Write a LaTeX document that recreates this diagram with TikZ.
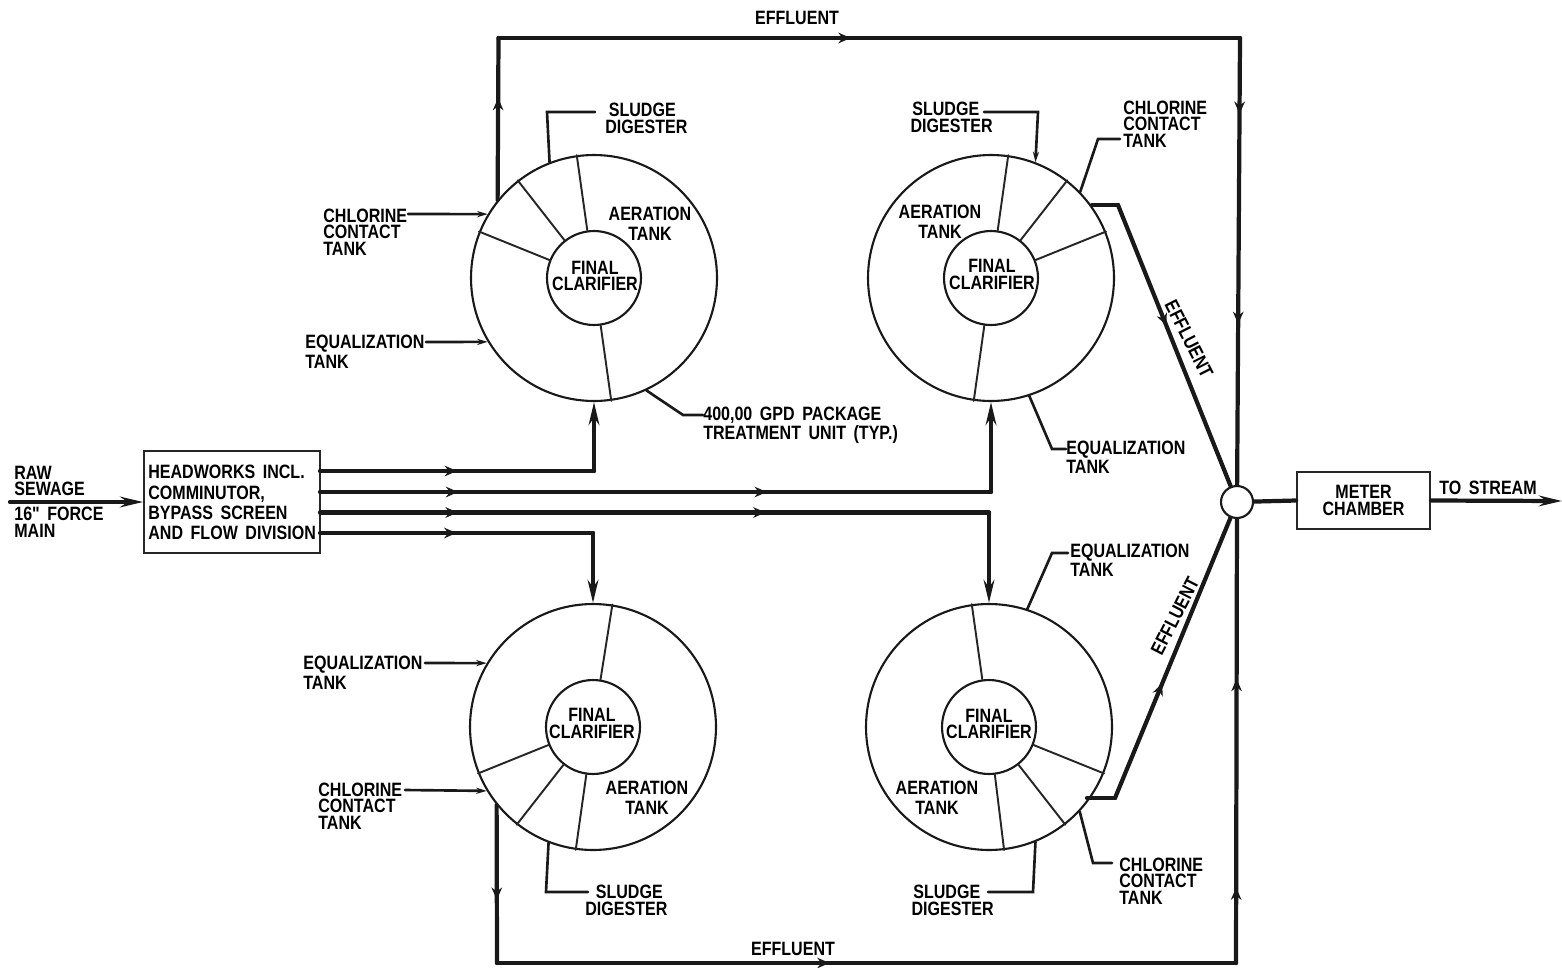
\documentclass[tikz,border=0pt]{standalone}
\usepackage{fontspec}
\setmainfont[UprightFont=* Bold,FakeStretch=0.83,WordSpace=1.7]{Liberation Sans}
\newfontfamily\quotefont[UprightFont=* Bold,FakeStretch=0.83]{Liberation Sans}
\usetikzlibrary{arrows.meta,decorations.markings}
\newcommand{\tightfont}{\fontsize{11}{9.5}\selectfont}
\newcommand{\loosefont}{\fontsize{11}{11.5}\selectfont}
\begin{document}
\begin{tikzpicture}[x=0.02cm,y=-0.02cm,>={Stealth[length=13pt,width=6pt]},line cap=round,
  flow/.style={line width=2.4pt,black!90},
  tipat/.style={postaction={decorate,decoration={markings,mark=at position #1 with {\arrow{Stealth[length=7pt,width=6pt]}}}}},
  leader/.style={line width=1.5pt,black!90},
  thintip/.style={-{Stealth[length=6pt,width=3.5pt]}},
  divider/.style={line width=1.1pt,black!85},
  outer/.style={circle,draw,line width=1.2pt,black!90,minimum size=4.92cm,inner sep=0pt},
  inner/.style={circle,draw,line width=1.2pt,black!90,minimum size=1.88cm,inner sep=0pt},
  tag/.style={inner sep=0pt,align=left,font=\tightfont,text=black},
  wide/.style={inner sep=0pt,align=left,font=\loosefont,text=black},
  box/.style={draw,line width=1pt,black!85,inner sep=0pt,text=black}]
\useasboundingbox (0,0) rectangle (1562,967);

\node[outer] (outTL) at (594,278) {};
\node[outer] (outTR) at (991,278) {};
\node[outer] (outBL) at (593,727) {};
\node[outer] (outBR) at (989,727) {};
\node[inner] (inTL) at (594,278) {};
\node[inner] (inTR) at (991,278) {};
\node[inner] (inBL) at (593,727) {};
\node[inner] (inBR) at (989,727) {};

\draw[divider] (inTL.98) -- (outTL.98);
\draw[divider] (inTL.128) -- (outTL.128);
\draw[divider] (inTL.158) -- (outTL.158);
\draw[divider] (inTL.-82) -- (outTL.-82);
\draw[divider] (inTR.82) -- (outTR.82);
\draw[divider] (inTR.52) -- (outTR.52);
\draw[divider] (inTR.22) -- (outTR.22);
\draw[divider] (inTR.-98) -- (outTR.-98);
\draw[divider] (inBL.81) -- (outBL.81);
\draw[divider] (inBL.202) -- (outBL.202);
\draw[divider] (inBL.232) -- (outBL.232);
\draw[divider] (inBL.262) -- (outBL.262);
\draw[divider] (inBR.98) -- (outBR.98);
\draw[divider] (inBR.-22) -- (outBR.-22);
\draw[divider] (inBR.-52) -- (outBR.-52);
\draw[divider] (inBR.-83) -- (outBR.-83);

\node[tag,align=center] (finTL) at (595,276) {FINAL\\CLARIFIER};
\node[tag,align=center] (finTR) at (992,274.5) {FINAL\\CLARIFIER};
\node[tag,align=center] (finBL) at (592,723.5) {FINAL\\CLARIFIER};
\node[tag,align=center] (finBR) at (989,724) {FINAL\\CLARIFIER};
\node[wide,align=center] (aerTL) at (650,224) {AERATION\\TANK};
\node[wide,align=center] (aerTR) at (940,222) {AERATION\\TANK};
\node[wide,align=center] (aerBL) at (647,798) {AERATION\\TANK};
\node[wide,align=center] (aerBR) at (937,798) {AERATION\\TANK};

\node[box,minimum width=3.52cm,minimum height=2.04cm] (head) at (232,502) {};
\node[wide,anchor=west] (headtext) at (148,502.5) {HEADWORKS INCL.\\COMMINUTOR,\\BYPASS SCREEN\\AND FLOW DIVISION};
\node[box,minimum width=2.66cm,minimum height=1.14cm,align=center,font=\tightfont] (meter) at (1363.5,500.5) {METER\\CHAMBER};
\node[circle,draw,line width=1.2pt,black!90,fill=white,minimum size=0.64cm,inner sep=0pt] (jct) at (1237,502) {};

\coordinate (rawin) at (10,502);
\coordinate (streamout) at (1562,501);
\coordinate (fa) at (320,471);
\coordinate (fb) at (320,492);
\coordinate (fc) at (320,512.5);
\coordinate (fd) at (320,533);
\coordinate (ca) at (594,471);
\coordinate (cb) at (991,492);
\coordinate (cc) at (989,512.5);
\coordinate (cd) at (593,533);
\coordinate (ctl) at (498.5,38);
\coordinate (ctr) at (1240,38);
\coordinate (cbl) at (497,963);
\coordinate (cbr) at (1236,963);
\coordinate (dtr) at (1118,205);
\coordinate (dtrs) at (1092,205);
\coordinate (dbr) at (1115,798);
\coordinate (dbrs) at (1087,798);

\draw[flow,->] (rawin) -- (head.west);
\draw[flow,tipat=0.5] (fa) -- (ca);
\draw[flow,->] (ca) -- (outTL.-90);
\draw[flow,tipat=0.206,tipat=0.666] (fb) -- (cb);
\draw[flow,->] (cb) -- (outTR.-90);
\draw[flow,tipat=0.206,tipat=0.666] (fc) -- (cc);
\draw[flow,->] (cc) -- (outBR.90);
\draw[flow,tipat=0.5] (fd) -- (cd);
\draw[flow,->] (cd) -- (outBL.90);

\draw[flow,tipat=0.63] (outTL.141) -- (ctl);
\draw[flow,tipat=0.475] (ctl) -- (ctr);
\draw[flow,tipat=0.17,tipat=0.64] (ctr) -- (jct);
\draw[flow,tipat=0.6] (outBL.219) -- (cbl);
\draw[flow,tipat=0.45] (cbl) -- (cbr);
\draw[flow,tipat=0.17,tipat=0.64] (cbr) -- (jct);
\draw[flow] (dtrs) -- (dtr);
\draw[flow,tipat=0.43] (dtr) -- (jct);
\draw[flow] (dbrs) -- (dbr);
\draw[flow,tipat=0.41] (dbr) -- (jct);
\draw[flow] (jct) -- (meter.west);
\draw[flow,->] (meter.east) -- (streamout);

\node[tag,anchor=base] (efftop) at (797,24) {EFFLUENT};
\node[tag,anchor=base] (effbot) at (793,955) {EFFLUENT};
\node[tag,rotate=-63] (effright) at (1189,339) {EFFLUENT};
\node[tag,rotate=63] (effleft) at (1175,616) {EFFLUENT};

\node[tag,anchor=west] (raw) at (14,481) {RAW\\SEWAGE};
\node[tag,anchor=west] (force) at (14,522) {16{\quotefont"} FORCE\\MAIN};
\node[tag] (stream) at (1488,488) {TO STREAM};

\node[tag,anchor=west] (sluTL) at (605,118.5) {\hspace*{2pt}SLUDGE\\DIGESTER};
\node[tag,anchor=east] (sluTR) at (993,117) {\hspace*{1pt}SLUDGE\\DIGESTER};
\node[tag,anchor=west] (sluBL) at (585,900) {\hspace*{6pt}SLUDGE\\DIGESTER};
\node[tag,anchor=east] (sluBR) at (994,900) {\hspace*{1pt}SLUDGE\\DIGESTER};
\node[tag,anchor=west] (chlTL) at (323,232) {CHLORINE\\CONTACT\\TANK};
\node[tag,anchor=west] (chlTR) at (1123,124) {CHLORINE\\CONTACT\\TANK};
\node[tag,anchor=west] (chlBL) at (318,806) {CHLORINE\\CONTACT\\TANK};
\node[tag,anchor=west] (chlBR) at (1119,881) {CHLORINE\\CONTACT\\TANK};
\node[wide,anchor=west] (eqlTL) at (305,352) {EQUALIZATION\\TANK};
\node[tag,anchor=west] (eqlTR) at (1066,457.5) {EQUALIZATION\\TANK};
\node[wide,anchor=west] (eqlBL) at (303,672.5) {EQUALIZATION\\TANK};
\node[tag,anchor=west] (eqlBR) at (1070,560.5) {EQUALIZATION\\TANK};
\node[tag,anchor=west] (unit) at (703,425.5) {400,00 GPD PACKAGE\\TREATMENT UNIT (TYP.)};

\coordinate (sTL) at (547,112);
\coordinate (sTLe) at (595,112);
\coordinate (sTR) at (1038,112);
\coordinate (sTRe) at (984,112);
\coordinate (sBL) at (546,892);
\coordinate (sBLe) at (588,892);
\coordinate (sBR) at (1033,892);
\coordinate (sBRe) at (988,892);

\draw[leader] (sTLe) -- (sTL) -- (outTL.111);
\draw[leader,thintip] (sTRe) -- (sTR) -- (outTR.69);
\draw[leader] (sBLe) -- (sBL) -- (outBL.249);
\draw[leader] (sBRe) -- (sBR) -- (outBR.-68);
\draw[leader,thintip] (408,214) -- (outTL.149);
\draw[leader] (1120,139) -- (1098,139) -- (outTR.44);
\draw[leader,thintip] (405,790) -- (outBL.211);
\draw[leader] (1112,863) -- (1093,863) -- (outBR.-43);
\draw[leader,thintip] (426,342) -- (outTL.211);
\draw[leader] (1066,449) -- (1052,449) -- (outTR.-72);
\draw[leader,thintip] (425,663) -- (outBL.149);
\draw[leader] (1068,553) -- (1052,553) -- (outBR.72);
\draw[leader] (703,415) -- (683,415) -- (outTL.-65);
\end{tikzpicture}
\end{document}
